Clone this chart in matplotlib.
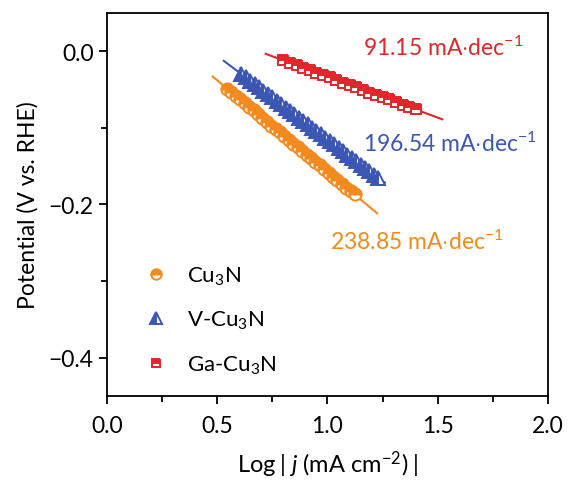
import numpy as np
import matplotlib
matplotlib.use("Agg")
import matplotlib.pyplot as plt

# Tafel data
cu3n_x = [0.545, 0.565, 0.585, 0.605, 0.625, 0.645, 0.665, 0.685, 0.705, 0.725,
          0.745, 0.765, 0.785, 0.805, 0.825, 0.845, 0.865, 0.885, 0.905, 0.925,
          0.945, 0.965, 0.985, 1.005, 1.025, 1.045, 1.065, 1.085, 1.105, 1.125]
cu3n_y = [-0.049, -0.053, -0.058, -0.063, -0.068, -0.073, -0.077, -0.082, -0.087, -0.092,
          -0.097, -0.101, -0.106, -0.111, -0.116, -0.121, -0.125, -0.130, -0.135, -0.140,
          -0.145, -0.149, -0.154, -0.159, -0.164, -0.168, -0.173, -0.178, -0.183, -0.187]

v_x = [0.61, 0.63, 0.65, 0.67, 0.69, 0.71, 0.73, 0.75, 0.77, 0.79, 0.81, 0.83,
       0.85, 0.87, 0.89, 0.91, 0.93, 0.95, 0.97, 0.99, 1.01, 1.03, 1.05, 1.07,
       1.09, 1.11, 1.13, 1.15, 1.17, 1.19, 1.21, 1.23]
v_y = [-0.030, -0.034, -0.039, -0.043, -0.047, -0.052, -0.056, -0.060, -0.065, -0.069,
       -0.074, -0.078, -0.082, -0.087, -0.091, -0.095, -0.100, -0.104, -0.108, -0.113,
       -0.117, -0.121, -0.126, -0.130, -0.135, -0.139, -0.143, -0.148, -0.152, -0.156,
       -0.161, -0.165]

ga_x = [0.80, 0.83, 0.86, 0.89, 0.92, 0.95, 0.98, 1.01, 1.04, 1.07, 1.10,
        1.13, 1.16, 1.19, 1.22, 1.25, 1.28, 1.31, 1.34, 1.37, 1.40]
ga_y = [-0.012, -0.015, -0.018, -0.022, -0.025, -0.028, -0.031, -0.034, -0.038, -0.041,
        -0.044, -0.047, -0.050, -0.054, -0.057, -0.060, -0.063, -0.066, -0.070, -0.073,
        -0.076]

# x span of each fitted line
fit_span = {'Cu3N': (0.48, 1.225), 'V': (0.53, 1.26), 'Ga': (0.72, 1.52)}

slope_labels = ['238.85', '196.54', '91.15']

orange = '#f28a1e'
blue = '#3c56b4'
red = '#e1262c'

plt.rcParams['font.family'] = ['Lato', 'DejaVu Sans']
plt.rcParams['mathtext.fontset'] = 'custom'
plt.rcParams['mathtext.rm'] = 'Lato'
plt.rcParams['mathtext.it'] = 'Lato:italic'
plt.rcParams['font.size'] = 16

fig = plt.figure(figsize=(5.71, 4.81), dpi=100)
ax = fig.add_axes([0.187, 0.175, 0.773, 0.796])

series = [
    (cu3n_x, cu3n_y, 'Cu$_3$N', orange, 'o', 'top', fit_span['Cu3N'], 8.8),
    (v_x, v_y, 'V-Cu$_3$N', blue, '^', 'left', fit_span['V'], 9.8),
    (ga_x, ga_y, 'Ga-Cu$_3$N', red, 's', 'top', fit_span['Ga'], 7.5),
]

for xs, ys, name, col, mk, fs, span, ms in series:
    p = np.polyfit(xs, ys, 1)
    lx = np.array(span)
    ax.plot(lx, np.polyval(p, lx), color=col, lw=1.5, zorder=1)
    # draw point by point so each marker's filled half covers the one before
    for i, (x, y) in enumerate(zip(xs, ys)):
        ax.plot([x], [y], linestyle='none', marker=mk, ms=ms, fillstyle=fs,
                markerfacecolor=col, markerfacecoloralt='white',
                markeredgecolor=col, markeredgewidth=1.4,
                label=name if i == 0 else None, zorder=2)

ax.text(1.16, 0.006, slope_labels[2] + ' mA$\\cdot$dec$^{-1}$', color=red,
        va='center', ha='left', fontsize=16.5)
ax.text(1.16, -0.12, slope_labels[1] + ' mA$\\cdot$dec$^{-1}$', color=blue,
        va='center', ha='left', fontsize=16.5)
ax.text(1.01, -0.247, slope_labels[0] + ' mA$\\cdot$dec$^{-1}$', color=orange,
        va='center', ha='left', fontsize=16.5)

ax.set_xlim(0, 2.0)
ax.set_ylim(-0.45, 0.05)
ax.set_xticks([0, 0.5, 1.0, 1.5, 2.0])
ax.set_xticks([0.25, 0.75, 1.25, 1.75], minor=True)
ax.set_yticks([-0.4, -0.2, 0.0])
ax.set_yticks([-0.3, -0.1], minor=True)
ax.set_xticklabels(['0.0', '0.5', '1.0', '1.5', '2.0'])
ax.set_yticklabels(['\u22120.4', '\u22120.2', '0.0'])
ax.tick_params(which='major', direction='out', length=6, width=1.3, labelsize=16.5)
ax.tick_params(axis='x', which='major', pad=8)
ax.tick_params(which='minor', direction='out', length=4, width=1.3)
for s in ax.spines.values():
    s.set_linewidth(1.3)

ax.set_xlabel('Log$\\;$|$\\;j$ (mA cm$^{-2}$)$\\;$|', fontsize=17, labelpad=9)
ax.set_ylabel('Potential (V vs. RHE)', fontsize=16.5, labelpad=7)

ax.legend(loc='center left', bbox_to_anchor=(0.035, 0.198), frameon=False,
          handletextpad=0.8, labelspacing=1.0, handlelength=1.2, markerscale=0.85)

fig.savefig('out.png', dpi=100)
